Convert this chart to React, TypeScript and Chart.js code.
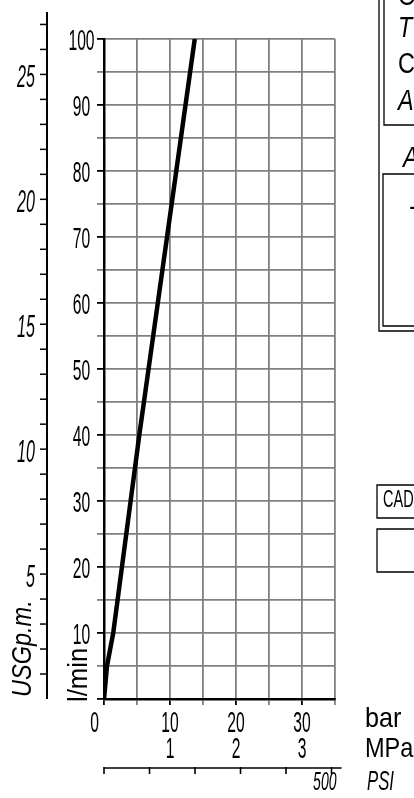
import React, { useEffect, useRef } from "react";
import { Chart, registerables } from "chart.js";

Chart.register(...registerables);

// ---- data ----
const flowLpm = [0, 5, 10, 40, 100];
const pressureBar = [0, 0.45, 1.4, 5.35, 13.75];
const lpmLabels = [10, 20, 30, 40, 50, 60, 70, 80, 90, 100];
const barLabels = [0, 10, 20, 30];
const mpaLabels = [1, 2, 3];
const usgLabels = [5, 10, 15, 20, 25];
const usgTickMax = 27;
const usgAxisTop = 27.5;
const psiTicks = [0, 100, 200, 300, 400, 500];
const psiLabels = [500];
const titleLetters = ["O", "T", "C", "A"];

const LPM_PER_USG = 3.78541;
const PSI_PER_BAR = 14.5038;
const FONT = '"Liberation Sans", Arial, sans-serif';

type TxtOpt = {
  size: number;
  sx?: number;
  italic?: boolean;
  align?: CanvasTextAlign;
  rotate?: boolean;
};

function txt(ctx: CanvasRenderingContext2D, s: string, x: number, y: number, o: TxtOpt) {
  ctx.save();
  ctx.translate(x, y);
  if (o.rotate) ctx.rotate(-Math.PI / 2);
  ctx.scale(o.sx ?? 1, 1);
  ctx.font = `${o.italic ? "italic " : ""}${o.size}px ${FONT}`;
  ctx.textAlign = o.align ?? "left";
  ctx.textBaseline = "alphabetic";
  ctx.fillStyle = "#000";
  ctx.fillText(s, 0, 0);
  ctx.restore();
}

function line(ctx: CanvasRenderingContext2D, pts: number[][], w = 1.3) {
  ctx.save();
  ctx.strokeStyle = "#000";
  ctx.lineWidth = w;
  ctx.beginPath();
  pts.forEach((p, i) => (i === 0 ? ctx.moveTo(p[0], p[1]) : ctx.lineTo(p[0], p[1])));
  ctx.stroke();
  ctx.restore();
}

const overlay = {
  id: "overlay",
  afterDraw(chart: any) {
    const ctx: CanvasRenderingContext2D = chart.ctx;
    const xs = chart.scales.x;
    const ys = chart.scales.y;

    // l/min tick labels
    lpmLabels.forEach((v) =>
      txt(ctx, String(v), 81.5, ys.getPixelForValue(v) + 10.5, { size: 29, sx: 0.54, align: "center" })
    );
    // bar labels
    barLabels.forEach((v) => {
      const px = v === 0 ? xs.getPixelForValue(0) - 9.5 : xs.getPixelForValue(v);
      txt(ctx, String(v), px, 732, { size: 29, sx: 0.54, align: "center" });
    });
    // MPa labels
    mpaLabels.forEach((v) =>
      txt(ctx, String(v), xs.getPixelForValue(v * 10), 758, { size: 29, sx: 0.54, align: "center" })
    );
    txt(ctx, "bar", chart.chartArea.right + 30, 727, { size: 28, sx: 0.9 });
    txt(ctx, "MPa", chart.chartArea.right + 30, 757, { size: 28, sx: 0.84 });

    // l/min title (rotated)
    txt(ctx, "l/min", 87, 702, { size: 27, rotate: true, sx: 0.95 });

    // USG axis
    const ax = 47;
    line(ctx, [[ax, ys.getPixelForValue(usgAxisTop * LPM_PER_USG)], [ax, ys.getPixelForValue(0)]], 2);
    for (let u = 1; u <= usgTickMax; u++) {
      const py = ys.getPixelForValue(u * LPM_PER_USG);
      line(ctx, [[ax - 7, py], [ax, py]], 1.5);
    }
    usgLabels.forEach((u) =>
      txt(ctx, String(u), 35, ys.getPixelForValue(u * LPM_PER_USG) + 13, {
        size: 31,
        sx: 0.52,
        italic: true,
        align: "right",
      })
    );
    txt(ctx, "USGp.m.", 31, 697, { size: 28, italic: true, rotate: true, sx: 0.84 });

    // PSI axis
    const py0 = 768;
    line(ctx, [[xs.getPixelForValue(0), py0], [xs.getPixelForValue(36), py0]], 1.6);
    psiTicks.forEach((p) => {
      const px = xs.getPixelForValue(p / PSI_PER_BAR);
      line(ctx, [[px, py0 - 1], [px, py0 + 6]], 1.6);
    });
    psiLabels.forEach((p) =>
      txt(ctx, String(p), xs.getPixelForValue(p / PSI_PER_BAR) + 5, 790, {
        size: 26,
        sx: 0.54,
        italic: true,
        align: "right",
      })
    );
    txt(ctx, "PSI", 367, 790, { size: 27, sx: 0.62, italic: true });

    // title block fragments at right edge
    line(ctx, [[379, 0], [379, 331], [414, 331]]);
    line(ctx, [[384, 0], [384, 125], [414, 125]]);
    line(ctx, [[414, 174], [383, 174], [383, 326], [414, 326]]);
    line(ctx, [[414, 485], [377, 485], [377, 518], [414, 518]]);
    line(ctx, [[414, 529], [377, 529], [377, 572], [414, 572]]);
    const tl = [5, 37, 73, 110];
    titleLetters.forEach((s, i) =>
      txt(ctx, s, 398, tl[i], { size: 30, italic: s === "T" || s === "A", sx: 0.78 })
    );
    txt(ctx, "A", 403, 167, { size: 30, italic: true, sx: 0.78 });
    txt(ctx, "-", 409, 215, { size: 28 });
    txt(ctx, "CAD", 383, 507, { size: 23, sx: 0.63 });
  },
};

export default function App() {
  const ref = useRef<HTMLCanvasElement | null>(null);
  useEffect(() => {
    if (!ref.current) return;
    const gridColor = "#808080";
    const chart = new Chart(ref.current, {
      type: "line",
      data: {
        datasets: [
          {
            label: "Flow",
            data: pressureBar.map((p, i) => ({ x: p, y: flowLpm[i] })),
            borderColor: "#000",
            borderWidth: 4.5,
            pointRadius: 0,
            tension: 0,
          },
        ],
      },
      options: {
        responsive: false,
        devicePixelRatio: 1,
        animation: false,
        events: [],
        layout: { padding: { left: 97, top: 39, right: 79, bottom: 93 } },
        plugins: { legend: { display: false }, tooltip: { enabled: false } },
        scales: {
          x: {
            type: "linear",
            min: 0,
            max: 35,
            ticks: { display: false, stepSize: 5 },
            grid: {
              color: gridColor,
              lineWidth: 1.8,
              drawTicks: true,
              tickLength: 6,
              tickColor: (c: any) => (c.tick && c.tick.value % 10 === 0 ? "#000" : gridColor),
            },
            border: { color: "#000", width: 2.5 },
          },
          y: {
            type: "linear",
            min: 0,
            max: 100,
            ticks: { display: false, stepSize: 5 },
            grid: {
              color: gridColor,
              lineWidth: 1.8,
              drawTicks: true,
              tickLength: 7,
              tickColor: (c: any) => (c.tick && c.tick.value % 10 === 0 ? "#000" : gridColor),
            },
            border: { color: "#000", width: 2.5 },
          },
        },
      },
      plugins: [overlay],
    });
    return () => chart.destroy();
  }, []);
  return (
    <div style={{ position: "absolute", left: 0, top: 0, width: 414, height: 798, background: "#fff" }}>
      <canvas ref={ref} width={414} height={798} style={{ display: "block" }} />
    </div>
  );
}
